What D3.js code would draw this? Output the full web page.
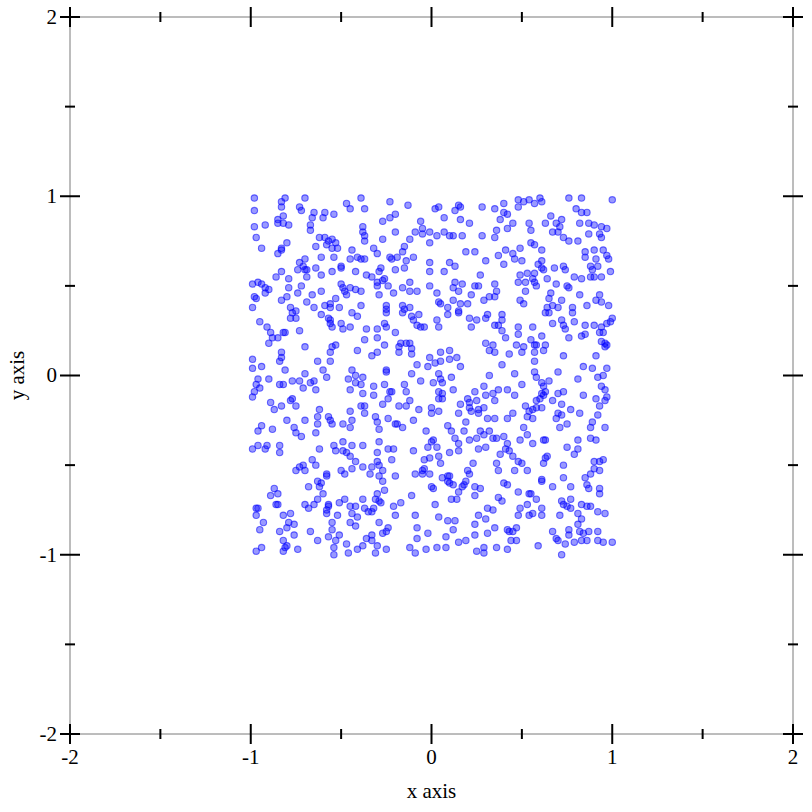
<!DOCTYPE html>
<html lang="en">
<head>
<meta charset="utf-8" />
<title>points</title>
<script src="https://d3js.org/d3.v7.min.js"></script>
<style>
  body { margin: 0; background: #fff; }
  text { font-family: "Liberation Serif", "DejaVu Serif", serif; }
</style>
</head>
<body>
<div id="myDiv"></div>

<script>
// point data (x, y in data units)
var topLeft = [[-0.98,0.99],[-0.81,0.99],[-0.83,0.97],[-0.70,0.99],[-0.39,0.99],[-0.83,0.94],[-0.73,0.94],[-0.72,0.92],[-0.98,0.92],[-0.65,0.91],[-0.59,0.91],[-0.66,0.88],[-0.60,0.88],[-0.54,0.90],[-0.47,0.96],[-0.45,0.93],[-0.37,0.93],[-0.82,0.89],[-0.85,0.87],[-0.85,0.85],[-0.82,0.85],[-0.79,0.84],[-0.92,0.84],[-0.98,0.83],[-0.67,0.84],[-0.67,0.81],[-0.38,0.83],[-0.38,0.80],[-0.37,0.78],[-0.37,0.75],[-0.97,0.77],[-0.62,0.77],[-0.59,0.77],[-0.57,0.75],[-0.55,0.76],[-0.53,0.74],[-0.58,0.73],[-0.55,0.71],[-0.52,0.71],[-0.80,0.74],[-0.83,0.71],[-0.85,0.68],[-0.83,0.70],[-0.94,0.71],[-0.64,0.72],[-0.44,0.70],[-0.61,0.66],[-0.54,0.66],[-0.70,0.65],[-0.73,0.63],[-0.71,0.61],[-0.74,0.59],[-0.70,0.59],[-0.69,0.59],[-0.69,0.55],[-0.45,0.65],[-0.41,0.66],[-0.39,0.65],[-0.37,0.65],[-0.64,0.60],[-0.61,0.56],[-0.55,0.58],[-0.50,0.61],[-0.50,0.60],[-0.42,0.58],[-0.36,0.56],[-0.83,0.58],[-0.86,0.55],[-0.79,0.54],[-0.99,0.51],[-0.96,0.52],[-0.94,0.51],[-0.92,0.49],[-0.90,0.48],[-0.92,0.46],[-0.72,0.50],[-0.79,0.49],[-0.74,0.46],[-0.61,0.47],[-0.66,0.45],[-0.69,0.41],[-0.50,0.51],[-0.49,0.49],[-0.48,0.47],[-0.45,0.49],[-0.42,0.48],[-0.39,0.47],[-0.47,0.45],[-0.98,0.44],[-0.97,0.43],[-0.83,0.42],[-0.80,0.44],[-0.53,0.43],[-0.56,0.40],[-0.99,0.38],[-0.78,0.38],[-0.65,0.38],[-0.59,0.39],[-0.56,0.38],[-0.51,0.38],[-0.39,0.39],[-0.75,0.36]];

var topMiddle = [[-0.23,0.97],[-0.13,0.95],[0.02,0.93],[0.04,0.94],[0.07,0.88],[0.15,0.95],[0.16,0.94],[0.13,0.92],[0.28,0.94],[-0.20,0.90],[-0.23,0.88],[-0.27,0.86],[-0.06,0.86],[0.16,0.87],[0.21,0.85],[-0.20,0.80],[-0.09,0.80],[-0.05,0.82],[-0.05,0.79],[-0.01,0.80],[0.03,0.78],[0.07,0.80],[0.10,0.78],[0.12,0.78],[0.17,0.78],[-0.27,0.76],[-0.12,0.76],[-0.01,0.74],[0.28,0.78],[-0.32,0.71],[-0.30,0.68],[-0.23,0.66],[-0.22,0.65],[-0.19,0.66],[-0.16,0.69],[-0.15,0.72],[-0.14,0.64],[-0.10,0.66],[0.19,0.69],[0.24,0.69],[0.30,0.64],[-0.01,0.63],[0.10,0.63],[0.13,0.61],[-0.28,0.60],[-0.29,0.58],[-0.20,0.59],[-0.15,0.60],[-0.01,0.58],[0.07,0.58],[0.27,0.56],[-0.33,0.55],[-0.26,0.54],[-0.27,0.53],[-0.30,0.52],[-0.30,0.50],[-0.24,0.50],[-0.12,0.52],[-0.16,0.49],[-0.01,0.50],[0.13,0.52],[0.12,0.49],[0.17,0.51],[0.24,0.50],[0.26,0.50],[-0.29,0.45],[-0.21,0.46],[-0.12,0.47],[-0.08,0.47],[0.03,0.46],[0.15,0.47],[0.22,0.45],[0.32,0.44],[0.29,0.42],[0.04,0.41],[0.05,0.40],[0.12,0.42],[0.16,0.40],[0.20,0.40],[-0.25,0.39],[-0.25,0.37],[-0.16,0.39],[-0.15,0.37],[-0.12,0.38],[0.09,0.38],[0.15,0.36]];

var topRight = [[0.35,0.93],[0.40,0.96],[0.48,0.98],[0.48,0.94],[0.51,0.97],[0.54,0.98],[0.57,0.96],[0.60,0.99],[0.61,0.97],[0.76,0.99],[0.83,0.99],[1.00,0.98],[0.80,0.93],[0.83,0.91],[0.86,0.91],[0.40,0.91],[0.42,0.90],[0.38,0.87],[0.45,0.85],[0.66,0.89],[0.72,0.87],[0.69,0.85],[0.63,0.85],[0.71,0.83],[0.67,0.80],[0.70,0.80],[0.54,0.85],[0.55,0.81],[0.82,0.85],[0.87,0.85],[0.90,0.84],[0.94,0.83],[0.97,0.82],[0.36,0.81],[0.35,0.77],[0.42,0.82],[0.73,0.77],[0.76,0.75],[0.81,0.75],[0.87,0.79],[0.93,0.79],[0.94,0.77],[0.55,0.74],[0.57,0.73],[0.41,0.70],[0.37,0.67],[0.40,0.62],[0.49,0.71],[0.45,0.68],[0.46,0.65],[0.50,0.64],[0.61,0.70],[0.85,0.69],[0.85,0.66],[0.90,0.70],[0.91,0.65],[0.95,0.70],[0.97,0.67],[0.98,0.65],[0.61,0.64],[0.59,0.62],[0.61,0.60],[0.62,0.59],[0.68,0.60],[0.73,0.61],[0.74,0.59],[0.88,0.61],[0.92,0.61],[0.89,0.59],[0.88,0.55],[0.90,0.55],[0.94,0.55],[0.99,0.58],[0.49,0.56],[0.53,0.57],[0.57,0.57],[0.56,0.54],[0.64,0.54],[0.79,0.55],[0.83,0.54],[0.35,0.51],[0.36,0.47],[0.35,0.44],[0.48,0.52],[0.52,0.52],[0.57,0.52],[0.58,0.50],[0.69,0.51],[0.75,0.50],[0.76,0.49],[0.52,0.47],[0.66,0.46],[0.65,0.43],[0.72,0.42],[0.67,0.39],[0.82,0.45],[0.93,0.45],[0.91,0.42],[0.94,0.41],[0.98,0.39],[0.86,0.39],[0.49,0.42],[0.51,0.40],[0.64,0.38],[0.70,0.38],[0.78,0.38]];

var midLeft = [[-0.77,0.35],[-0.78,0.32],[-0.75,0.32],[-0.61,0.34],[-0.57,0.32],[-0.56,0.31],[-0.44,0.35],[-0.41,0.33],[-0.95,0.30],[-0.91,0.27],[-0.89,0.24],[-0.88,0.21],[-0.85,0.21],[-0.90,0.18],[-0.82,0.24],[-0.81,0.24],[-0.73,0.25],[-0.56,0.29],[-0.55,0.27],[-0.50,0.29],[-0.49,0.26],[-0.45,0.27],[-0.36,0.26],[-0.70,0.16],[-0.53,0.17],[-0.55,0.16],[-0.56,0.13],[-0.37,0.20],[-0.41,0.14],[-0.83,0.13],[-0.84,0.08],[-0.83,0.10],[-0.99,0.09],[-0.94,0.05],[-0.99,0.04],[-0.63,0.08],[-0.56,0.08],[-0.81,0.03],[-0.60,0.03],[-0.70,0.01],[-0.67,-0.04],[-0.65,-0.03],[-0.58,-0.01],[-0.44,0.03],[-0.42,0.00],[-0.46,-0.02],[-0.42,-0.04],[-0.38,-0.01],[-0.39,-0.05],[-0.96,-0.02],[-0.97,-0.05],[-0.98,-0.09],[-0.95,-0.07],[-0.99,-0.12],[-0.90,-0.02],[-0.84,-0.05],[-0.82,-0.05],[-0.77,-0.03],[-0.73,-0.03],[-0.71,-0.07],[-0.64,-0.08],[-0.45,-0.08],[-0.38,-0.10],[-0.89,-0.15],[-0.78,-0.14],[-0.77,-0.13],[-0.75,-0.17],[-0.83,-0.17],[-0.87,-0.19],[-0.62,-0.19],[-0.39,-0.17],[-0.37,-0.17],[-0.45,-0.20],[-0.37,-0.21],[-0.63,-0.23],[-0.57,-0.23],[-0.56,-0.25],[-0.80,-0.25],[-0.70,-0.25],[-0.63,-0.27],[-0.55,-0.27],[-0.49,-0.27],[-0.44,-0.25],[-0.45,-0.29],[-0.94,-0.28],[-0.96,-0.31],[-0.88,-0.30],[-0.76,-0.29],[-0.75,-0.32],[-0.64,-0.32]];

var midMiddle = [[-0.25,0.35],[-0.16,0.35],[-0.11,0.33],[-0.10,0.31],[-0.07,0.34],[0.09,0.34],[0.15,0.35],[0.21,0.32],[0.25,0.31],[0.30,0.32],[0.31,0.34],[-0.26,0.29],[-0.25,0.27],[-0.30,0.26],[-0.08,0.28],[-0.06,0.27],[-0.04,0.27],[0.03,0.31],[0.04,0.27],[0.22,0.27],[-0.20,0.24],[-0.30,0.21],[-0.26,0.17],[-0.17,0.18],[-0.14,0.18],[-0.12,0.18],[-0.18,0.16],[-0.18,0.13],[-0.11,0.15],[-0.11,0.12],[-0.33,0.11],[-0.30,0.13],[-0.01,0.10],[0.05,0.13],[0.10,0.14],[0.10,0.09],[0.05,0.08],[0.02,0.07],[0.14,0.10],[-0.02,0.05],[-0.08,0.06],[0.30,0.18],[0.32,0.14],[-0.25,0.03],[-0.25,0.02],[-0.11,0.01],[-0.06,-0.03],[0.04,0.01],[0.05,-0.02],[0.01,-0.04],[0.06,-0.04],[0.11,-0.01],[0.16,0.05],[0.32,0.00],[-0.32,-0.06],[-0.32,-0.11],[-0.26,-0.05],[-0.23,-0.09],[-0.22,-0.09],[-0.24,-0.13],[-0.15,-0.05],[-0.14,-0.09],[-0.12,-0.14],[-0.27,-0.16],[0.04,-0.09],[0.06,-0.10],[0.04,-0.13],[0.06,-0.13],[0.12,-0.08],[0.24,-0.09],[0.29,-0.06],[0.30,-0.11],[0.16,-0.16],[0.20,-0.13],[0.21,-0.15],[0.25,-0.14],[0.21,-0.18],[0.22,-0.20],[0.26,-0.19],[0.29,-0.18],[-0.18,-0.17],[-0.14,-0.17],[-0.07,-0.19],[0.00,-0.18],[0.00,-0.21],[0.04,-0.20],[0.15,-0.21],[0.19,-0.26],[0.26,-0.21],[-0.31,-0.23],[-0.30,-0.26],[-0.29,-0.30],[-0.24,-0.24],[-0.20,-0.27],[-0.19,-0.27],[-0.10,-0.25],[-0.16,-0.29],[0.09,-0.28],[0.11,-0.31],[0.18,-0.31],[-0.03,-0.31],[0.31,-0.24],[0.27,-0.31],[0.32,-0.31]];

var midRight = [[0.39,0.34],[0.39,0.31],[0.37,0.28],[0.35,0.28],[0.63,0.35],[0.65,0.35],[0.72,0.31],[0.79,0.30],[0.78,0.35],[1.00,0.32],[0.99,0.30],[0.97,0.29],[0.48,0.27],[0.56,0.27],[0.67,0.29],[0.73,0.28],[0.74,0.26],[0.85,0.28],[0.90,0.28],[0.94,0.27],[0.93,0.24],[0.95,0.24],[0.39,0.25],[0.41,0.21],[0.48,0.23],[0.61,0.22],[0.76,0.21],[0.83,0.22],[0.85,0.23],[0.94,0.19],[0.96,0.18],[0.97,0.17],[0.96,0.16],[0.34,0.17],[0.35,0.13],[0.43,0.12],[0.47,0.17],[0.51,0.16],[0.50,0.13],[0.55,0.20],[0.57,0.17],[0.58,0.17],[0.63,0.17],[0.62,0.14],[0.57,0.13],[0.73,0.11],[0.57,0.08],[0.39,0.06],[0.91,0.11],[0.84,0.05],[0.89,0.04],[0.97,0.04],[0.46,0.01],[0.57,0.02],[0.58,-0.01],[0.70,0.02],[0.65,-0.03],[0.61,-0.04],[0.62,-0.06],[0.81,-0.02],[0.92,-0.01],[0.95,0.00],[0.50,-0.05],[0.37,-0.08],[0.42,-0.08],[0.46,-0.11],[0.34,-0.10],[0.35,-0.14],[0.61,-0.10],[0.63,-0.09],[0.62,-0.11],[0.60,-0.13],[0.58,-0.14],[0.70,-0.10],[0.73,-0.09],[0.67,-0.14],[0.72,-0.16],[0.84,-0.11],[0.91,-0.13],[0.94,-0.06],[0.96,-0.08],[0.97,-0.12],[0.96,-0.14],[0.93,-0.17],[0.52,-0.17],[0.54,-0.20],[0.56,-0.19],[0.58,-0.18],[0.61,-0.18],[0.35,-0.24],[0.42,-0.24],[0.45,-0.21],[0.53,-0.23],[0.56,-0.24],[0.70,-0.21],[0.72,-0.22],[0.77,-0.19],[0.82,-0.21],[0.69,-0.24],[0.92,-0.22],[0.51,-0.29],[0.71,-0.29],[0.75,-0.27],[0.89,-0.26],[0.88,-0.29],[0.96,-0.29]];

var bottomLeft = [[-0.72,-0.34],[-0.99,-0.41],[-0.96,-0.39],[-0.92,-0.41],[-0.91,-0.39],[-0.84,-0.39],[-0.84,-0.43],[-0.62,-0.41],[-0.54,-0.39],[-0.53,-0.42],[-0.49,-0.37],[-0.49,-0.42],[-0.44,-0.39],[-0.38,-0.39],[-0.47,-0.43],[-0.45,-0.45],[-0.42,-0.48],[-0.66,-0.47],[-0.64,-0.50],[-0.71,-0.50],[-0.73,-0.51],[-0.75,-0.53],[-0.70,-0.53],[-0.58,-0.55],[-0.58,-0.56],[-0.50,-0.53],[-0.48,-0.55],[-0.44,-0.52],[-0.38,-0.51],[-0.87,-0.63],[-0.89,-0.67],[-0.85,-0.66],[-0.68,-0.62],[-0.63,-0.59],[-0.61,-0.60],[-0.62,-0.62],[-0.60,-0.66],[-0.97,-0.74],[-0.96,-0.74],[-0.97,-0.78],[-0.86,-0.72],[-0.85,-0.72],[-0.70,-0.72],[-0.68,-0.74],[-0.65,-0.72],[-0.63,-0.69],[-0.57,-0.72],[-0.57,-0.73],[-0.58,-0.75],[-0.58,-0.77],[-0.51,-0.71],[-0.48,-0.69],[-0.45,-0.73],[-0.42,-0.73],[-0.38,-0.69],[-0.37,-0.74],[-0.35,-0.76],[-0.82,-0.78],[-0.78,-0.77],[-0.93,-0.82],[-0.95,-0.86],[-0.52,-0.78],[-0.55,-0.82],[-0.55,-0.86],[-0.44,-0.77],[-0.41,-0.79],[-0.45,-0.82],[-0.42,-0.84],[-0.79,-0.82],[-0.76,-0.83],[-0.80,-0.85],[-0.84,-0.87],[-0.76,-0.89],[-0.67,-0.87],[-0.63,-0.92],[-0.57,-0.90],[-0.53,-0.92],[-0.51,-0.89],[-0.82,-0.92],[-0.81,-0.96],[-0.80,-0.95],[-0.82,-0.98],[-0.74,-0.97],[-0.97,-0.98],[-0.94,-0.96],[-0.54,-0.96],[-0.54,-1.00],[-0.47,-0.94],[-0.46,-0.99],[-0.41,-0.97],[-0.38,-0.95],[-0.36,-0.91]];

var bottomMiddle = [[-0.29,-0.37],[-0.30,-0.43],[-0.24,-0.41],[-0.21,-0.41],[-0.22,-0.47],[0.01,-0.36],[0.00,-0.37],[-0.02,-0.40],[0.03,-0.40],[0.13,-0.35],[0.15,-0.38],[0.15,-0.42],[0.10,-0.43],[0.21,-0.36],[0.25,-0.35],[0.29,-0.33],[0.26,-0.41],[0.30,-0.40],[-0.10,-0.42],[-0.04,-0.47],[-0.01,-0.46],[0.04,-0.45],[0.05,-0.49],[-0.33,-0.51],[-0.34,-0.55],[-0.30,-0.48],[-0.29,-0.50],[-0.27,-0.53],[-0.27,-0.59],[-0.29,-0.56],[-0.04,-0.52],[-0.05,-0.53],[-0.09,-0.55],[-0.05,-0.55],[-0.01,-0.55],[-0.20,-0.56],[0.06,-0.57],[0.09,-0.56],[0.10,-0.56],[0.09,-0.59],[0.10,-0.60],[0.12,-0.61],[0.18,-0.61],[0.19,-0.59],[0.17,-0.62],[0.20,-0.53],[0.21,-0.55],[0.23,-0.49],[0.24,-0.62],[0.00,-0.62],[0.01,-0.63],[-0.30,-0.66],[-0.31,-0.69],[-0.29,-0.70],[-0.28,-0.71],[-0.32,-0.74],[-0.21,-0.73],[-0.17,-0.71],[-0.26,-0.64],[-0.11,-0.67],[0.02,-0.72],[0.11,-0.69],[0.14,-0.69],[0.15,-0.65],[0.24,-0.67],[0.27,-0.63],[-0.33,-0.76],[-0.09,-0.78],[0.04,-0.79],[0.09,-0.81],[0.13,-0.81],[0.26,-0.78],[0.31,-0.74],[0.30,-0.80],[-0.20,-0.78],[-0.29,-0.82],[-0.24,-0.85],[-0.25,-0.87],[-0.27,-0.88],[-0.33,-0.89],[-0.33,-0.92],[-0.30,-0.95],[-0.25,-0.97],[-0.31,-0.99],[-0.08,-0.85],[-0.02,-0.88],[-0.08,-0.91],[0.08,-0.90],[0.12,-0.86],[0.08,-0.96],[0.03,-0.96],[0.24,-0.83],[0.24,-0.89],[0.19,-0.92],[0.15,-0.93],[0.31,-0.88],[-0.12,-0.96],[-0.09,-0.99],[-0.03,-0.97],[0.25,-0.98],[0.29,-0.96],[0.29,-0.99]];

var bottomRight = [[0.34,-0.35],[0.36,-0.35],[0.40,-0.34],[0.42,-0.38],[0.41,-0.41],[0.43,-0.42],[0.38,-0.44],[0.45,-0.45],[0.49,-0.36],[0.53,-0.33],[0.56,-0.38],[0.62,-0.36],[0.63,-0.36],[0.81,-0.36],[0.88,-0.35],[0.91,-0.36],[0.75,-0.40],[0.81,-0.41],[0.79,-0.44],[0.63,-0.46],[0.64,-0.45],[0.62,-0.49],[0.48,-0.48],[0.50,-0.49],[0.53,-0.53],[0.46,-0.53],[0.36,-0.49],[0.37,-0.53],[0.73,-0.50],[0.90,-0.48],[0.93,-0.48],[0.95,-0.47],[0.93,-0.53],[0.88,-0.55],[0.90,-0.52],[0.73,-0.57],[0.85,-0.57],[0.86,-0.61],[0.87,-0.63],[0.93,-0.63],[0.93,-0.66],[0.40,-0.60],[0.42,-0.61],[0.61,-0.58],[0.61,-0.59],[0.67,-0.62],[0.77,-0.62],[0.48,-0.65],[0.54,-0.66],[0.55,-0.66],[0.37,-0.68],[0.39,-0.70],[0.58,-0.69],[0.53,-0.72],[0.49,-0.74],[0.48,-0.78],[0.54,-0.78],[0.56,-0.77],[0.61,-0.74],[0.61,-0.78],[0.72,-0.70],[0.73,-0.72],[0.75,-0.73],[0.77,-0.69],[0.77,-0.74],[0.83,-0.72],[0.86,-0.73],[0.88,-0.73],[0.34,-0.75],[0.71,-0.78],[0.81,-0.77],[0.83,-0.80],[0.81,-0.83],[0.92,-0.76],[0.96,-0.77],[0.35,-0.85],[0.42,-0.86],[0.43,-0.87],[0.45,-0.87],[0.47,-0.85],[0.44,-0.92],[0.47,-0.92],[0.67,-0.87],[0.69,-0.91],[0.70,-0.92],[0.76,-0.86],[0.76,-0.89],[0.82,-0.87],[0.84,-0.88],[0.87,-0.87],[0.83,-0.92],[0.86,-0.92],[0.92,-0.87],[0.92,-0.92],[0.95,-0.93],[1.00,-0.93],[0.36,-0.96],[0.42,-0.97],[0.59,-0.95],[0.74,-0.94],[0.79,-0.93],[0.72,-1.00]];

// axis ticks
var majorTicks = [-2, -1, 0, 1, 2];
var minorTicks = [-1.5, -0.5, 0.5, 1.5];
var xLabel = "x axis";
var yLabel = "y axis";

var allPoints = topLeft.concat(topMiddle, topRight, midLeft, midMiddle, midRight,
                               bottomLeft, bottomMiddle, bottomRight);

var width = 812;
var height = 812;
// plot area edges (named so they don't clash with window.top)
var plotLeft = 70, plotRight = 793, plotTop = 17, plotBottom = 734;

// scales
var xScale = d3.scaleLinear().domain([-2, 2]).range([plotLeft, plotRight]);
var yScale = d3.scaleLinear().domain([-2, 2]).range([plotBottom, plotTop]);

var svg = d3.select("#myDiv").append("svg")
    .attr("width", width)
    .attr("height", height);

svg.append("rect")
    .attr("width", width)
    .attr("height", height)
    .attr("fill", "white");

// frame, gray lines on all four sides
svg.append("rect")
    .attr("x", plotLeft)
    .attr("y", plotTop)
    .attr("width", plotRight - plotLeft)
    .attr("height", plotBottom - plotTop)
    .attr("fill", "none")
    .attr("stroke", "#7a7a7a")
    .attr("stroke-width", 1);

// points
svg.append("g").selectAll("circle")
    .data(allPoints)
    .enter()
    .append("circle")
        .attr("cx", function(d){ return xScale(d[0]); })
        .attr("cy", function(d){ return yScale(d[1]); })
        .attr("r", 3.2)
        .attr("fill", "blue")
        .attr("fill-opacity", 0.4)
        .attr("stroke", "blue")
        .attr("stroke-opacity", 0.55)
        .attr("stroke-width", 1.1);

// ticks cross the frame line, both sides
function drawTicks(values, half){
    var g = svg.append("g").attr("stroke", "black").attr("stroke-width", 2);
    values.forEach(function(v){
        var x = xScale(v), y = yScale(v);
        g.append("line").attr("x1", x).attr("x2", x).attr("y1", plotBottom - half).attr("y2", plotBottom + half);
        g.append("line").attr("x1", x).attr("x2", x).attr("y1", plotTop - half).attr("y2", plotTop + half);
        g.append("line").attr("y1", y).attr("y2", y).attr("x1", plotLeft - half).attr("x2", plotLeft + half);
        g.append("line").attr("y1", y).attr("y2", y).attr("x1", plotRight - half).attr("x2", plotRight + half);
    });
}
drawTicks(majorTicks, 10);
drawTicks(minorTicks, 5);

// tick labels
svg.append("g").selectAll("text")
    .data(majorTicks)
    .enter()
    .append("text")
        .attr("x", function(d){ return xScale(d); })
        .attr("y", plotBottom + 30)
        .attr("text-anchor", "middle")
        .attr("font-size", 21)
        .text(function(d){ return d; });

svg.append("g").selectAll("text")
    .data(majorTicks)
    .enter()
    .append("text")
        .attr("x", plotLeft - 13)
        .attr("y", function(d){ return yScale(d); })
        .attr("dy", "0.33em")
        .attr("text-anchor", "end")
        .attr("font-size", 21)
        .text(function(d){ return d; });

// axis titles
svg.append("text")
    .attr("x", xScale(0))
    .attr("y", 798)
    .attr("text-anchor", "middle")
    .attr("font-size", 21)
    .text(xLabel);

svg.append("text")
    .attr("transform", "translate(24," + yScale(0) + ") rotate(-90)")
    .attr("text-anchor", "middle")
    .attr("font-size", 21)
    .text(yLabel);
</script>
</body>
</html>
